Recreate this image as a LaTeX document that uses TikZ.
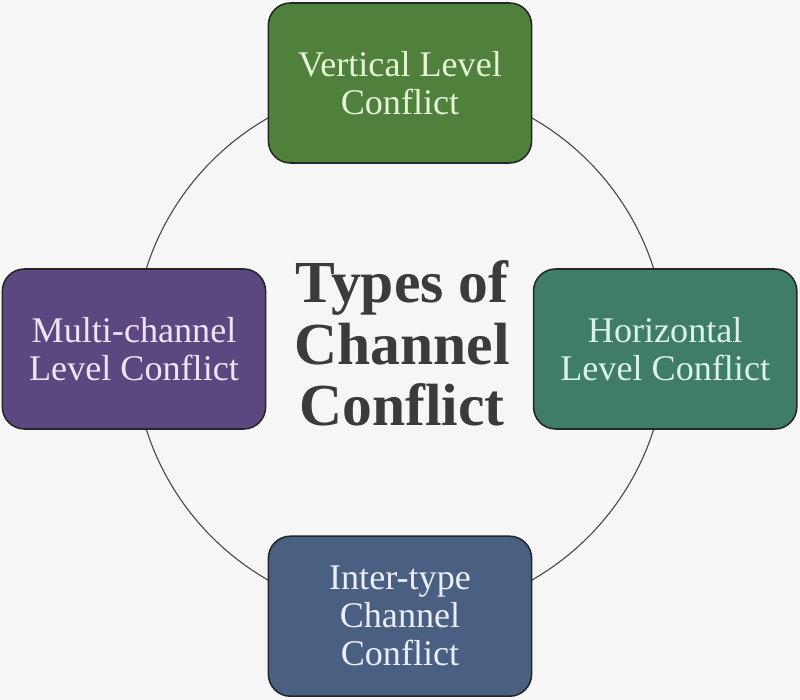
\documentclass[tikz,border=0pt]{standalone}
\usepackage{fontspec}
\setmainfont{Liberation Serif}
\definecolor{bgcol}{HTML}{F6F6F6}
\definecolor{ringgray}{HTML}{4A4A4A}
\definecolor{titlegray}{HTML}{3B3B3B}
\definecolor{vgreen}{HTML}{4F813D}
\definecolor{vgreentext}{HTML}{E4F4D4}
\definecolor{hteal}{HTML}{3F7D68}
\definecolor{htealtext}{HTML}{DAF2E8}
\definecolor{mpurple}{HTML}{5B4880}
\definecolor{mpurpletext}{HTML}{EEE4F4}
\definecolor{islate}{HTML}{4A6083}
\definecolor{islatetext}{HTML}{E9EEF7}

\begin{document}
\begin{tikzpicture}[
		box/.style = {draw = black!85, line width = 1.1pt, rounded corners = 0.55cm,
			minimum width = 6.58cm, minimum height = 4cm, align = center,
			font = \fontsize{25.7}{27}\selectfont},
		title/.style = {align = center, text = titlegray,
			font = \fontsize{42.4}{44}\selectfont\bfseries},
		ring/.style = {draw = ringgray, line width = 0.8pt}]
				\fill [bgcol] (-10,-8.775) rectangle (10,8.725);
				\useasboundingbox (-10,-8.775) rectangle (10,8.725);
				\coordinate (hub) at (0,0);
				% ring behind the four boxes
				\draw [ring] (hub) circle [radius = 6.65];
				\node [title] (title) at (0.05,0.14) {Types of\\Channel\\Conflict};
				\node [box, fill = vgreen, text = vgreentext] (vertical) at (0,6.65) {Vertical Level\\Conflict};
				\node [box, fill = hteal, text = htealtext] (horizontal) at (6.63,0) {Horizontal\\Level Conflict};
				\node [box, fill = mpurple, text = mpurpletext] (multi) at (-6.65,0) {Multi-channel\\Level Conflict};
				\node [box, fill = islate, text = islatetext] (intertype) at (0,-6.68) {Inter-type\\Channel\\Conflict};
		\end{tikzpicture}
\end{document}
